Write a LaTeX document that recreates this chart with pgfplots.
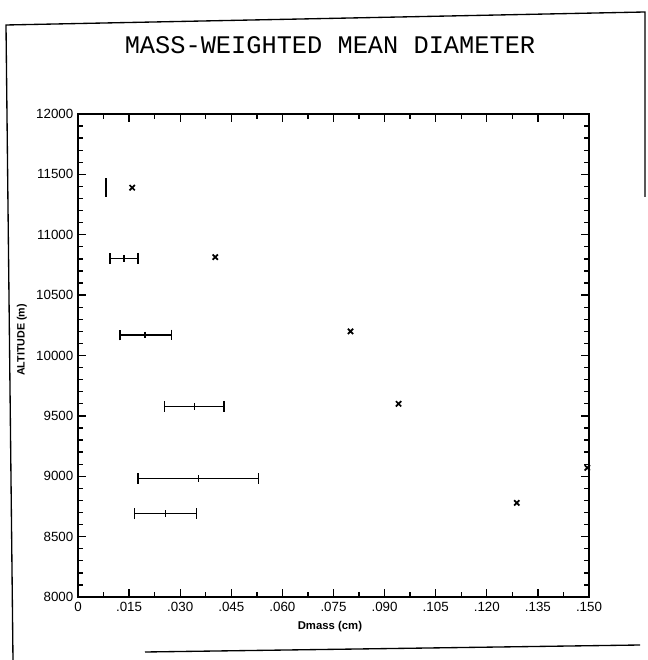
\documentclass[border=0pt]{standalone}
\usepackage{pgfplots}
\pgfplotsset{compat=1.18}
\usepackage{fontspec}
\setmainfont{Liberation Sans}
\newfontfamily\titlefont{Liberation Mono}
\begin{document}
\begin{tikzpicture}
\useasboundingbox (-58.5pt,-47.25pt) rectangle (426.75pt,447.75pt);
% page frame of the scanned figure
\draw[line width=1pt] (-48.75pt,-47.25pt) -- (-54pt,429pt) -- (425.25pt,438.75pt) -- (425.25pt,300pt);
\draw[line width=1pt] (50.25pt,-41.25pt) -- (421.5pt,-36pt);
\begin{axis}[
  scale only axis,
  width=383.25pt, height=362.25pt,
  xmin=0, xmax=0.15, ymin=8000, ymax=12000,
  clip=false,
  scaled x ticks=false, scaled y ticks=false,
  axis line style={line width=1.3pt},
  xtick={0,0.015,0.03,0.045,0.06,0.075,0.09,0.105,0.12,0.135,0.15},
  xticklabels={0,.015,.030,.045,.060,.075,.090,.105,.120,.135,.150},
  ytick={8000,8500,9000,9500,10000,10500,11000,11500,12000},
  yticklabels={8000,8500,9000,9500,10000,10500,11000,11500,12000},
  minor x tick num=1,
  minor y tick num=4,
  tick align=inside,
  major tick length=6pt,
  minor tick length=3.5pt,
  tick style={line width=1pt, black},
  /pgf/number format/assume math mode=true,
  yticklabel style={font=\fontsize{10}{12}\selectfont},
  xticklabel style={font=\fontsize{10}{12}\selectfont},
  xlabel={\textbf{Dmass (cm)}},
  ylabel={\textbf{ALTITUDE (m)}},
  xlabel style={at={(axis description cs:0.493,-0.062)}, anchor=center, font=\fontsize{8.5}{10}\selectfont},
  ylabel style={at={(axis description cs:-0.11,0.532)}, anchor=center, font=\fontsize{8}{10}\selectfont},
]
% zero-width range at the top level
\addplot[black, line width=1.6pt, mark=none,
  error bars/.cd, x dir=both, x explicit,
  error bar style={line width=1.6pt},
  error mark options={rotate=90, mark size=7pt, line width=1.6pt}]
  table[x=x, y=y, x error minus=m, x error plus=p] {
  x y m p
  0.0082 11390 0.00005 0.00005
};
% ranges with mean
\addplot[only marks, black, mark=|, mark size=2.5pt, mark options={line width=1pt},
  error bars/.cd, x dir=both, x explicit,
  error bar style={line width=1pt},
  error mark options={rotate=90, mark size=4pt, line width=1pt}]
  table[x=x, y=y, x error minus=m, x error plus=p] {
  x y m p
  0.0135 10805 0.0041 0.0041
  0.0197 10170 0.0074 0.0077
  0.0341 9580 0.0088 0.0088
  0.0353 8980 0.0177 0.0176
  0.0256 8690 0.0091 0.0091
};
% mass-weighted mean diameter
\addplot[only marks, black, mark=x, mark size=2.8pt, mark options={line width=1.3pt}]
  table[x=x, y=y] {
  x y
  0.0159 11390
  0.0403 10815
  0.0800 10200
  0.0941 9600
  0.1495 9070
  0.1288 8780
};
\end{axis}
\node[font=\titlefont\fontsize{19}{22}\selectfont] at (189pt,414pt) {MASS-WEIGHTED MEAN DIAMETER};
\end{tikzpicture}
\end{document}
